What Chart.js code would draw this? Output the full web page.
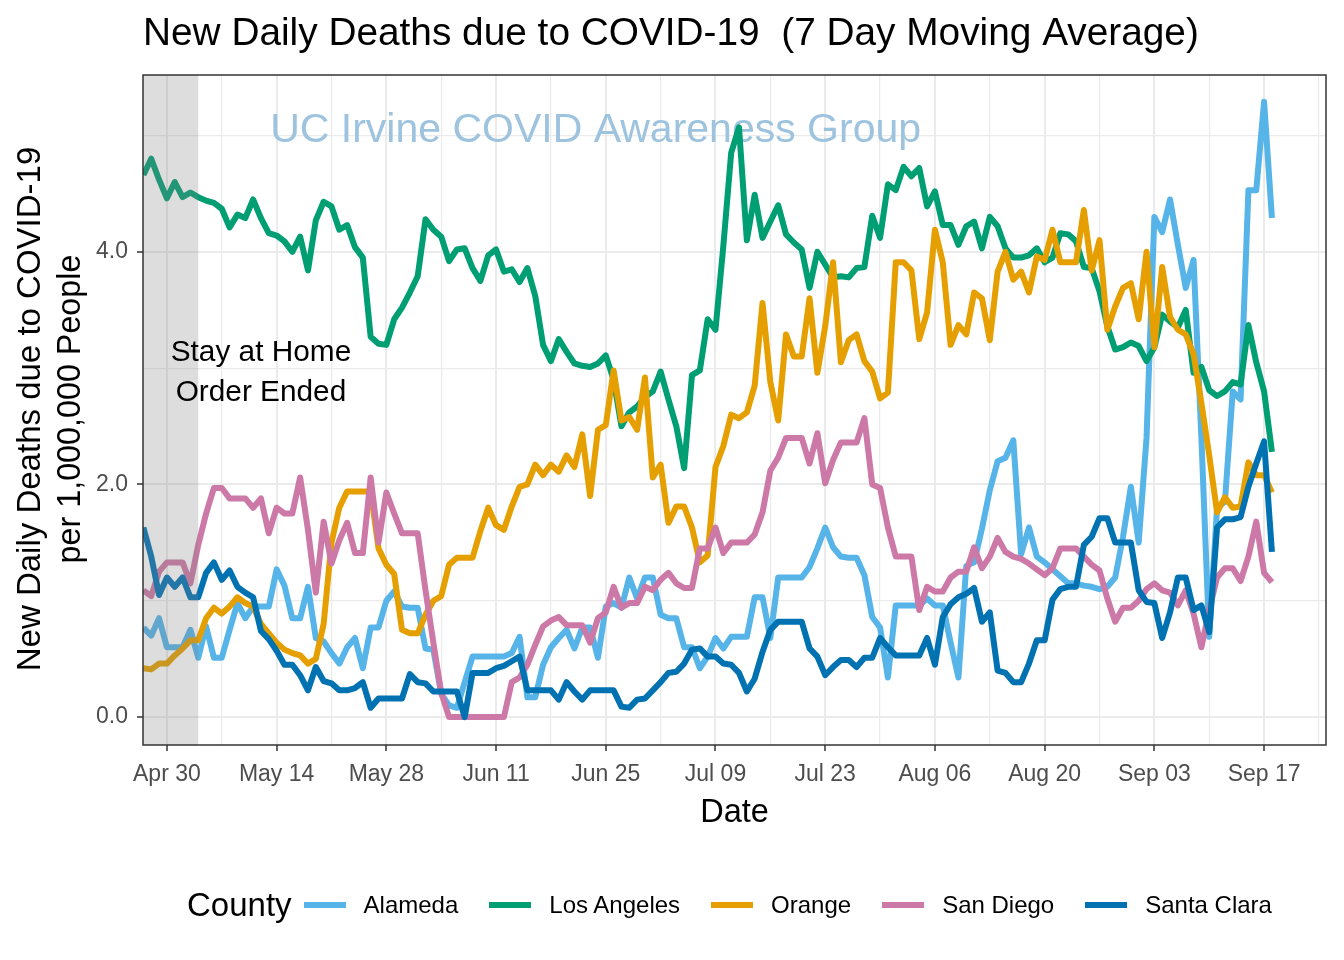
<!DOCTYPE html>
<html><head><meta charset="utf-8">
<script src="https://cdn.jsdelivr.net/npm/chart.js@4.4.1/dist/chart.umd.min.js"></script>
<style>
html,body{margin:0;padding:0;background:#fff;}
#wrap{position:relative;width:1344px;height:960px;overflow:hidden;}
canvas{position:absolute;left:0;top:0;}
#legend{position:absolute;left:187px;top:880px;height:50px;display:flex;align-items:center;font-family:"Liberation Sans",Arial,sans-serif;color:#000;white-space:nowrap;}
#legend .ttl{font-size:33px;margin-right:12px;}
#legend .key{width:42px;height:6px;margin-right:18px;}
#legend .lab{font-size:24px;margin-right:31px;}
</style></head><body>
<div id="wrap"><canvas id="c" width="1344" height="960"></canvas><div id="legend"></div></div>
<script>
const startDate = '2020-04-27';
const counties = ['Alameda','Los Angeles','Orange','San Diego','Santa Clara'];
const countyColors = ['#56B4E9','#009E73','#E69F00','#CC79A7','#0072B2'];

const alameda = [
0.77,0.70,0.85,0.60,0.60,0.60,0.75,0.51,0.78,0.51,
0.51,0.75,0.98,0.85,0.95,0.95,0.95,1.27,1.13,0.85,
0.85,1.12,0.68,0.65,0.55,0.46,0.60,0.68,0.42,0.77,
0.77,1.00,1.08,0.95,0.94,0.94,0.59,0.58,0.20,0.10,
0.08,0.30,0.52,0.52,0.52,0.52,0.52,0.55,0.69,0.17,
0.17,0.45,0.60,0.68,0.75,0.59,0.77,0.77,0.51,0.95,
0.98,0.94,1.20,1.02,1.20,1.20,0.88,0.85,0.85,0.60,
0.60,0.42,0.52,0.68,0.59,0.69,0.69,0.69,1.03,1.03,
0.68,1.20,1.20,1.20,1.20,1.29,1.45,1.63,1.46,1.38,
1.37,1.37,1.22,0.86,0.77,0.34,0.96,0.96,0.96,0.96,
1.02,0.96,0.96,0.64,0.34,1.30,1.33,1.62,1.95,2.20,
2.23,2.38,1.40,1.63,1.38,1.33,1.27,1.21,1.15,1.15,
1.13,1.12,1.10,1.12,1.20,1.55,1.98,1.50,2.40,4.30,
4.17,4.45,4.06,3.69,3.93,2.40,0.69,1.80,1.85,2.80,
2.73,4.53,4.53,5.29,4.29];

const losAngeles = [
4.66,4.80,4.62,4.46,4.60,4.47,4.51,4.47,4.44,4.42,
4.37,4.21,4.32,4.29,4.45,4.29,4.16,4.14,4.09,4.00,
4.13,3.84,4.27,4.43,4.39,4.19,4.23,4.04,3.95,3.27,
3.21,3.20,3.42,3.52,3.65,3.79,4.28,4.19,4.13,3.92,
4.02,4.03,3.86,3.75,3.97,4.02,3.83,3.85,3.74,3.86,
3.62,3.20,3.06,3.25,3.14,3.04,3.02,3.01,3.04,3.11,
2.90,2.50,2.62,2.67,2.75,2.80,2.97,2.73,2.50,2.14,
2.94,2.98,3.42,3.33,4.05,4.85,5.07,4.10,4.49,4.12,
4.26,4.40,4.15,4.08,4.02,3.69,4.00,3.89,3.78,3.79,
3.78,3.86,3.87,4.31,4.12,4.58,4.53,4.73,4.65,4.72,
4.39,4.52,4.23,4.23,4.06,4.22,4.26,4.03,4.30,4.22,
4.03,3.95,3.95,3.97,4.03,3.91,3.95,4.16,4.15,4.09,
3.87,3.86,3.66,3.36,3.16,3.18,3.22,3.19,3.06,3.18,
3.46,3.40,3.35,3.50,2.96,3.01,2.81,2.76,2.80,2.88,
2.86,3.37,3.05,2.80,2.28];

const orange = [
0.42,0.41,0.46,0.46,0.53,0.59,0.66,0.66,0.85,0.94,
0.89,0.95,1.03,0.98,0.95,0.80,0.72,0.64,0.58,0.55,
0.53,0.46,0.50,0.80,1.50,1.80,1.94,1.94,1.94,1.94,
1.45,1.31,1.23,0.75,0.72,0.72,0.88,1.00,1.04,1.31,
1.37,1.37,1.37,1.60,1.80,1.65,1.61,1.81,1.98,2.00,
2.17,2.08,2.17,2.11,2.25,2.15,2.43,1.90,2.47,2.51,
2.98,2.55,2.58,2.47,2.92,2.06,2.17,1.67,1.81,1.81,
1.63,1.33,1.39,2.15,2.33,2.60,2.57,2.62,2.85,3.56,
2.88,2.55,3.29,3.10,3.10,3.60,2.96,3.36,3.91,3.05,
3.24,3.29,3.06,2.97,2.74,2.79,3.91,3.91,3.84,3.25,
3.48,4.19,3.91,3.20,3.37,3.29,3.65,3.60,3.24,3.83,
4.00,3.76,3.83,3.65,3.96,3.93,4.19,3.91,3.91,3.91,
4.36,3.84,4.10,3.33,3.53,3.69,3.73,3.42,4.00,3.18,
3.87,3.44,3.33,3.29,3.12,2.70,2.25,1.76,1.89,1.80,
1.81,2.19,2.08,2.08,1.93];

const sanDiego = [
1.09,1.04,1.25,1.33,1.33,1.33,1.15,1.48,1.75,1.97,
1.97,1.88,1.88,1.88,1.80,1.88,1.58,1.80,1.75,1.75,
2.06,1.61,1.07,1.68,1.32,1.52,1.67,1.41,1.41,2.06,
1.50,1.93,1.75,1.58,1.58,1.58,1.09,0.64,0.21,0.00,
0.00,0.00,0.00,0.00,0.00,0.00,0.00,0.30,0.34,0.45,
0.62,0.78,0.83,0.86,0.79,0.79,0.79,0.64,0.85,0.90,
1.12,0.94,0.98,0.98,1.12,1.09,1.18,1.24,1.15,1.11,
1.11,1.45,1.45,1.63,1.41,1.50,1.50,1.50,1.57,1.76,
2.12,2.23,2.40,2.40,2.40,2.18,2.44,2.01,2.21,2.36,
2.36,2.36,2.57,2.00,1.97,1.63,1.38,1.38,1.38,0.92,
1.12,1.08,1.08,1.20,1.25,1.25,1.46,1.28,1.38,1.54,
1.42,1.38,1.36,1.32,1.27,1.22,1.28,1.45,1.45,1.45,
1.38,1.31,1.26,1.02,0.82,0.94,0.94,1.00,1.10,1.15,
1.09,1.07,0.96,1.09,0.89,0.60,0.92,1.20,1.28,1.28,
1.17,1.38,1.68,1.24,1.16];

const santaClara = [
1.63,1.38,1.05,1.20,1.12,1.20,1.03,1.03,1.24,1.33,
1.18,1.26,1.12,1.07,1.03,0.74,0.67,0.57,0.45,0.45,
0.36,0.23,0.43,0.31,0.29,0.23,0.23,0.25,0.30,0.08,
0.16,0.16,0.16,0.16,0.37,0.30,0.29,0.22,0.22,0.22,
0.22,0.00,0.38,0.38,0.38,0.42,0.44,0.48,0.52,0.23,
0.23,0.23,0.23,0.15,0.30,0.22,0.15,0.23,0.23,0.23,
0.23,0.09,0.08,0.15,0.16,0.23,0.30,0.38,0.39,0.46,
0.58,0.59,0.52,0.52,0.46,0.45,0.38,0.22,0.33,0.56,
0.75,0.82,0.82,0.82,0.82,0.59,0.52,0.36,0.43,0.49,
0.49,0.43,0.51,0.51,0.68,0.60,0.53,0.53,0.53,0.53,
0.68,0.45,0.86,0.97,1.03,1.06,1.11,0.82,0.90,0.40,
0.38,0.30,0.30,0.46,0.66,0.66,1.01,1.10,1.12,1.12,
1.48,1.55,1.71,1.71,1.50,1.50,1.50,1.09,0.99,0.98,
0.68,0.90,1.20,1.20,0.92,0.96,0.73,1.63,1.70,1.70,
1.72,1.98,2.18,2.37,1.42];

// tick labels (day offsets from startDate)
const xTickDays = [3,17,31,45,59,73,87,101,115,129,143];
const xTickLabels = ['Apr 30','May 14','May 28','Jun 11','Jun 25','Jul 09','Jul 23','Aug 06','Aug 20','Sep 03','Sep 17'];
const xMinorDays = [10,24,38,52,66,80,94,108,122,136,150];
const yTickValues = [0,2,4];
const yTickLabels = ['0.0','2.0','4.0'];
const yMinorValues = [1,3,5];

const titleText = 'New Daily Deaths due to COVID-19  (7 Day Moving Average)';
const yTitleLines = ['New Daily Deaths due to COVID-19','per 1,000,000 People'];
const xTitleText = 'Date';
const watermarkText = 'UC Irvine COVID Awareness Group';
const annotationLines = ['Stay at Home','Order Ended'];
const shadeEndDay = 7;

const FONT = '"Liberation Sans", Arial, Helvetica, sans-serif';
const series = [alameda, losAngeles, orange, sanDiego, santaClara];

const decor = {
  id: 'decor',
  beforeDatasetsDraw(chart) {
    const {ctx, scales: {x, y}} = chart;
    ctx.save();
    ctx.font = '41px ' + FONT;
    ctx.fillStyle = '#9DC3DF';
    ctx.textAlign = 'center';
    ctx.textBaseline = 'middle';
    ctx.fillText(watermarkText, x.getPixelForValue(57.7), y.getPixelForValue(5.04));
    ctx.restore();
  },
  afterDatasetsDraw(chart) {
    const {ctx, chartArea: a, scales: {x, y}} = chart;
    ctx.save();
    ctx.fillStyle = 'rgba(128,128,128,0.27)';
    const xr = x.getPixelForValue(shadeEndDay);
    ctx.fillRect(a.left, a.top, xr - a.left, a.bottom - a.top);
    ctx.fillStyle = '#000';
    ctx.font = '29.8px ' + FONT;
    ctx.textAlign = 'center';
    ctx.textBaseline = 'middle';
    ctx.fillText(annotationLines[0], x.getPixelForValue(15), y.getPixelForValue(3.135));
    ctx.fillText(annotationLines[1], x.getPixelForValue(15), y.getPixelForValue(2.785));
    ctx.strokeStyle = '#333333';
    ctx.lineWidth = 1.5;
    ctx.strokeRect(a.left, a.top, a.right - a.left, a.bottom - a.top);
    ctx.restore();
  },
  afterDraw(chart) {
    const {ctx, chartArea: a} = chart;
    ctx.save();
    ctx.fillStyle = '#000';
    ctx.textBaseline = 'middle';
    ctx.font = '38.8px ' + FONT;
    ctx.textAlign = 'left';
    ctx.fillText(titleText, 143, 34);
    ctx.font = '32.5px ' + FONT;
    ctx.textAlign = 'center';
    ctx.fillText(xTitleText, (a.left + a.right) / 2, 813);
    ctx.translate(0, 409);
    ctx.rotate(-Math.PI / 2);
    ctx.font = '33px ' + FONT;
    ctx.fillText(yTitleLines[0], 0, 31);
    ctx.font = '32.3px ' + FONT;
    ctx.fillText(yTitleLines[1], 0, 71);
    ctx.restore();
  }
};

const isMajorX = v => xTickDays.includes(v);
const isMajorY = v => yTickValues.includes(v);

new Chart(document.getElementById('c'), {
  type: 'line',
  data: {
    datasets: counties.map((name, k) => ({
      label: name,
      data: series[k].map((v, i) => ({x: i, y: v})),
      borderColor: countyColors[k],
      backgroundColor: countyColors[k],
      borderWidth: 6,
      pointRadius: 0,
      pointHoverRadius: 0,
      tension: 0,
      fill: false,
      borderJoinStyle: 'round',
      borderCapStyle: 'butt',
      clip: 0,
      order: counties.length - k
    }))
  },
  options: {
    responsive: false,
    animation: false,
    devicePixelRatio: 1,
    layout: {padding: {top: 75, right: 18, left: 0, bottom: 0}},
    plugins: {legend: {display: false}, tooltip: {enabled: false}, title: {display: false}},
    scales: {
      x: {
        type: 'linear', min: -0.05, max: 150.9,
        afterBuildTicks: s => { s.ticks = xTickDays.concat(xMinorDays).sort((a,b)=>a-b).map(v => ({value: v})); },
        afterFit: s => { s.height = 215; },
        border: {display: false},
        grid: {
          color: '#EBEBEB',
          lineWidth: c => isMajorX(c.tick.value) ? 2 : 1.2,
          tickColor: c => isMajorX(c.tick.value) ? '#333333' : 'rgba(0,0,0,0)',
          tickLength: 6, tickWidth: 1.5
        },
        ticks: {
          autoSkip: false, maxRotation: 0, minRotation: 0, padding: 10,
          color: '#4D4D4D', font: {family: FONT, size: 23},
          callback: v => { const k = xTickDays.indexOf(v); return k >= 0 ? xTickLabels[k] : ''; }
        }
      },
      y: {
        type: 'linear', min: -0.24, max: 5.52,
        afterBuildTicks: s => { s.ticks = yTickValues.concat(yMinorValues).sort((a,b)=>a-b).map(v => ({value: v})); },
        afterFit: s => { s.width = 143; },
        border: {display: false},
        grid: {
          color: '#EBEBEB',
          lineWidth: c => isMajorY(c.tick.value) ? 2 : 1.2,
          tickColor: c => isMajorY(c.tick.value) ? '#333333' : 'rgba(0,0,0,0)',
          tickLength: 6, tickWidth: 1.5
        },
        ticks: {
          padding: 9, color: '#4D4D4D', font: {family: FONT, size: 23},
          callback: v => { const k = yTickValues.indexOf(v); return k >= 0 ? yTickLabels[k] : ''; }
        }
      }
    }
  },
  plugins: [decor]
});

// legend
const leg = document.getElementById('legend');
const t = document.createElement('span'); t.className = 'ttl'; t.textContent = 'County'; leg.appendChild(t);
counties.forEach((name, k) => {
  const key = document.createElement('span'); key.className = 'key'; key.style.background = countyColors[k];
  const lab = document.createElement('span'); lab.className = 'lab'; lab.textContent = name;
  leg.appendChild(key); leg.appendChild(lab);
});
</script>
</body></html>
